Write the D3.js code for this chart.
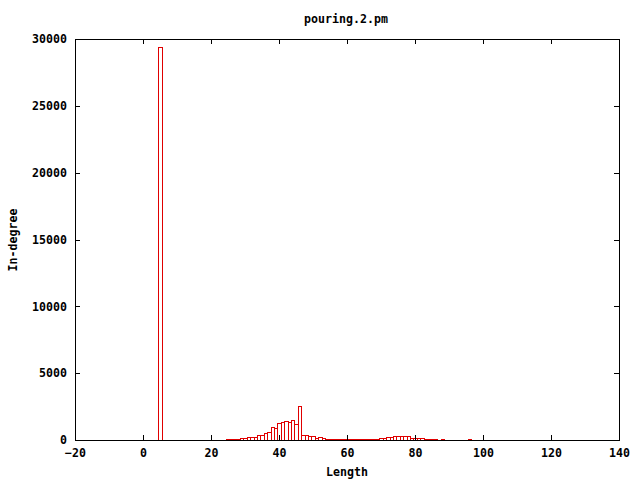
<!DOCTYPE html>
<html>
<head>
<meta charset="utf-8">
<script src="https://cdn.jsdelivr.net/npm/d3@7/dist/d3.min.js"></script>
<style>
  html, body { margin: 0; padding: 0; background: #fff; }
  svg text { font-family: "DejaVu Sans Mono", "Liberation Mono", monospace; font-weight: bold; font-size: 11.6px; fill: #000; }
</style>
</head>
<body>
<svg id="chart" width="640" height="480"></svg>
<script>
const title = "pouring.2.pm";
const xLabel = "Length";
const yLabel = "In-degree";
const xTicks = [-20, 0, 20, 40, 60, 80, 100, 120, 140];
const yTicks = [0, 5000, 10000, 15000, 20000, 25000, 30000];
const lengths = [5,
  25, 26, 27, 28, 29, 30, 31, 32, 33, 34, 35, 36, 37, 38, 39, 40, 41, 42, 43, 44,
  45, 46, 47, 48, 49, 50, 51, 52, 53, 54, 55, 56, 57, 58, 59, 60, 61, 62, 63, 64,
  65, 66, 67, 68, 69, 70, 71, 72, 73, 74, 75, 76, 77, 78, 79, 80, 81, 82, 83, 84,
  85, 86, 87, 88, 96];
const inDegree = [29400,
  50, 60, 60, 80, 140, 150, 200, 210, 220, 360, 380, 560, 600, 1000, 900, 1300, 1320, 1420, 1360, 1500,
  1200, 2550, 400, 370, 280, 270, 180, 200, 130, 90, 80, 70, 70, 70, 70, 70, 70, 70, 70, 70,
  70, 70, 70, 80, 90, 170, 180, 250, 260, 320, 330, 320, 330, 310, 140, 130, 130, 120, 110, 100,
  70, 60, 30, 50, 50];

const svg = d3.select("#chart");
const mLeft = 75, mRight = 619, mTop = 39, mBottom = 440;

const x = d3.scaleLinear().domain([-20, 140]).range([mLeft, mRight]);
const y = d3.scaleLinear().domain([0, 30000]).range([mBottom, mTop]);

const data = lengths.map((l, i) => ({ l, v: inDegree[i] }));

svg.append("g")
  .selectAll("rect")
  .data(data)
  .join("rect")
  .attr("x", d => Math.round(x(d.l - 0.5)) + 0.5)
  .attr("width", d => Math.round(x(d.l + 0.5)) - Math.round(x(d.l - 0.5)))
  .attr("y", d => Math.round(y(d.v)) + 0.5)
  .attr("height", d => Math.max(0, mBottom - Math.round(y(d.v))))
  .attr("fill", "none")
  .attr("stroke", "#e00000")
  .attr("stroke-width", 1)
  .attr("shape-rendering", "crispEdges");

function styleAxis(g) {
  g.select(".domain").remove();
  g.selectAll(".tick line").attr("stroke", "#000").attr("shape-rendering", "crispEdges");
  g.selectAll("text").attr("fill", "#000");
  g.attr("font-family", null).attr("font-size", null);
}

svg.append("g")
  .attr("transform", `translate(0,${mBottom})`)
  .call(d3.axisBottom(x).tickValues(xTicks).tickFormat(d3.format("d")).tickSize(-5).tickSizeOuter(0).tickPadding(9))
  .call(styleAxis);

svg.append("g")
  .attr("transform", `translate(0,${mTop})`)
  .call(d3.axisTop(x).tickValues(xTicks).tickSize(-5).tickSizeOuter(0).tickFormat(""))
  .call(styleAxis);

svg.append("g")
  .attr("transform", `translate(${mLeft},0)`)
  .call(d3.axisLeft(y).tickValues(yTicks).tickFormat(d3.format("d")).tickSize(-5).tickSizeOuter(0).tickPadding(8))
  .call(styleAxis);

svg.append("g")
  .attr("transform", `translate(${mRight},0)`)
  .call(d3.axisRight(y).tickValues(yTicks).tickSize(-5).tickSizeOuter(0).tickFormat(""))
  .call(styleAxis);

svg.append("rect")
  .attr("x", mLeft + 0.5).attr("y", mTop + 0.5)
  .attr("width", mRight - mLeft).attr("height", mBottom - mTop)
  .attr("fill", "none").attr("stroke", "#000").attr("shape-rendering", "crispEdges");

svg.append("text")
  .attr("x", 346).attr("y", 23)
  .attr("text-anchor", "middle")
  .text(title);

svg.append("text")
  .attr("x", 347).attr("y", 476)
  .attr("text-anchor", "middle")
  .text(xLabel);

svg.append("text")
  .attr("transform", "translate(17,240) rotate(-90)")
  .attr("text-anchor", "middle")
  .text(yLabel);
</script>
</body>
</html>
